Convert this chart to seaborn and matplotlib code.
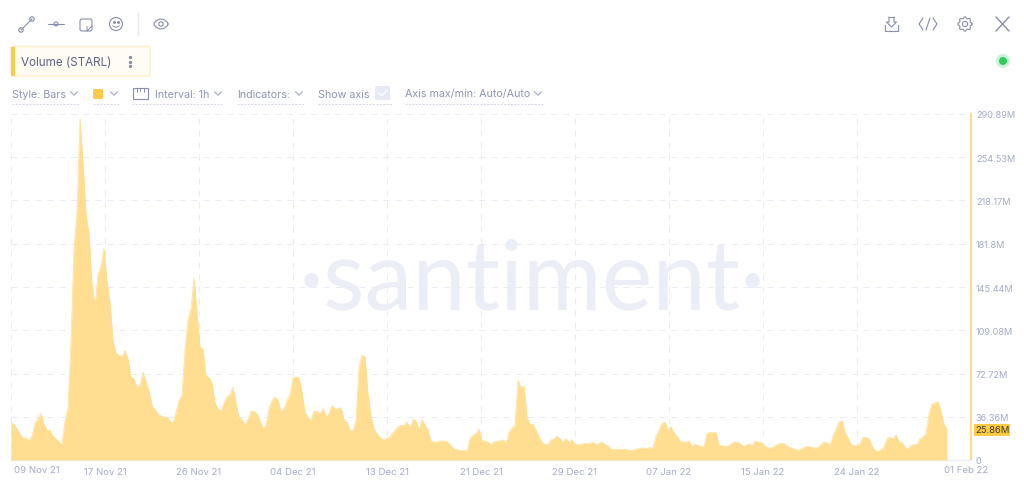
import numpy as np
import pandas as pd
import matplotlib
matplotlib.use("Agg")
import matplotlib.pyplot as plt
import seaborn as sns
from matplotlib.patches import Circle, FancyBboxPatch, Rectangle, Ellipse

volume_nov_a = [31,30,26,22,18.5,18.5,16,20,31,35,39,30,25,25,20,18,15,13,33,44,100,178,208,287,250,207,190,148,130,156,163,178,150,132,100,90,88,87,92,85,70,68,61,63,74,66,58,46,42,39,37,36,36,33,31]
volume_nov_b = [40,50,54,93,118,127,153,124,95,93,71,69,65,48,43,41,48,53,55,61,48,36,34,30,34,41,41,39,33,27,29,43,50,53,50,41,43,50,55,69,70,69,57,40,36,33,41,41,39,43,37,39,46,43,43]
volume_dec_a = [44,34,32,25,25,33,78,88,87,55,37,26,22,19,17,18,19,22,25,28,29,29,32,27,34,33,25,34,29,25,16,15,15,16,16,16,14,11,9,8.5,8,8,8,18,21,22,26,16,16,15,13,15,16,16,17]
volume_dec_b = [14,23,27,29,67,61,62,36,30,30,25,19,15,13,13,17,18,20,18,15,18,15,17,13,13,13,14,14,14,15,13,14,15,13,12,9,9,9,9,9,9,8,8,9,9.5,10,10,9.5,10.5,10,20,25,31,32,25]
volume_jan_a = [28,23,20,16,15,15,16,11.5,13.5,12,11.5,11.5,22,23,23,23,12.5,12,11.5,11.5,13.5,15,15,14,11.5,12.5,13.5,12,16,15,15,12.5,10.5,10,10.5,12.5,13.5,14,13.5,11.5,10.5,9,8.5,8.5,10,11.5,11.5,10.5,10,10.5]
volume_jan_b = [13,15,14.5,12,20,26,32,33,23,19,13,12,12,14,19,19,18,12,8,7,9,11,18,19,18,21,15,15,11,9,12,13,13,18,19,22,39,47,48,49,41,30,25.86]
volume = volume_nov_a + volume_nov_b + volume_dec_a + volume_dec_b + volume_jan_a + volume_jan_b

date_labels = ["17 Nov 21","26 Nov 21","04 Dec 21","13 Dec 21","21 Dec 21","29 Dec 21","07 Jan 22","15 Jan 22","24 Jan 22"]
first_label, last_label = "09 Nov 21", "01 Feb 22"
axis_values = [0,36.36,72.72,109.08,145.44,181.8,218.17,254.53,290.89]
axis_labels = ["0","36.36M","72.72M","109.08M","145.44M","181.8M","218.17M","254.53M","290.89M"]
last_text = "25.86M"

W, H = 1024, 485
GREY = "#a3abc6"; INK = "#878dab"; GRID = "#e9ebf7"; BAR = "#ffdd91"; YEL = "#ffcb47"
sns.set_theme(style="white")
plt.rcParams["font.family"] = ["Inter", "DejaVu Sans"]
fig = plt.figure(figsize=(W/100, H/100), dpi=100, facecolor="white")
L, R, T, B = 11, 971, 115, 461
ax = fig.add_axes([L/W, 1-B/H, (R-L)/W, (B-T)/H], facecolor="none")

df = pd.DataFrame({"sample": np.arange(len(volume)), "volume": volume})
sns.lineplot(data=df, x="sample", y="volume", color=BAR, linewidth=0.5, ax=ax, zorder=3)
ax.fill_between(df["sample"], df["volume"], color=BAR, linewidth=0, zorder=3)
ax.set_xlim(0, (R-L)/3); ax.set_ylim(0, axis_values[-1])
ax.set_xlabel(""); ax.set_ylabel("")

grid_ticks = np.arange(0, 10) * 94/3
ax.set_xticks(grid_ticks)
ax.set_xticklabels([""] + date_labels, color=GREY, fontsize=6.9)
ax.yaxis.tick_right()
ax.set_yticks(axis_values); ax.set_yticklabels(axis_labels, color=GREY, fontsize=6.6)
ax.tick_params(axis="y", length=0, pad=3.5)
ax.tick_params(axis="x", length=0, pad=5)
ax.grid(True, color=GRID, linewidth=0.72, linestyle=(0, (6, 6)), zorder=1)
ax.set_axisbelow(True)
for s in ["top", "left"]:
    ax.spines[s].set_visible(False)
ax.spines["right"].set_color("#ffdb85"); ax.spines["right"].set_linewidth(1.5)
ax.spines["bottom"].set_color("#eceef6"); ax.spines["bottom"].set_linewidth(1)

ui = fig.add_axes([0, 0, 1, 1], facecolor="none", zorder=-1)
ui.set_xlim(0, W); ui.set_ylim(H, 0); ui.axis("off")
ui.text(532, 283, "·santiment·", fontsize=69, family="Lato", weight="normal", color="#ebeef6",
        ha="center", va="center")

ov = fig.add_axes([0, 0, 1, 1], facecolor="none", zorder=5)
ov.set_xlim(0, W); ov.set_ylim(H, 0); ov.axis("off")
ov.text(37, 470.5, first_label, color=GREY, fontsize=6.9, ha="center", va="center")
ov.text(966, 470.5, last_label, color=GREY, fontsize=6.9, ha="center", va="center")
ov.add_patch(Rectangle((974, 425), 36, 12, fc=YEL, ec="none"))
ov.text(975.5, 431, last_text, color="#3c3a2a", fontsize=6.8, ha="left", va="center")

lw = 0.8
def line(xs, ys, c=INK, w=lw, **k):
    ov.plot(xs, ys, color=c, lw=w, solid_capstyle="round", **k)
def ring(x, y, r, c=INK, w=lw, fc="white"):
    ov.add_patch(Ellipse((x, y), 2*r, 2*r, fc=fc, ec=c, lw=w))
def chevron(x, y):
    line([x-3.5, x, x+3.5], [y-1.8, y+1.8, y-1.8], c=GREY, w=0.8)

# left toolbar
line([21, 32], [31, 20]); ring(21, 31, 2.2); ring(32, 20, 2.2)
line([48, 64], [25, 25]); ring(56, 25, 2)
ov.add_patch(FancyBboxPatch((80, 20), 12, 12, boxstyle="round,pad=0,rounding_size=2", fc="white", ec=INK, lw=lw))
line([92, 87, 87], [27, 32, 27.5], w=0.7)
ring(116, 25, 6.5)
ov.plot([113.8, 118.2], [23, 23], ls="none", marker="o", ms=1.1, color=INK)
t = np.linspace(0.15*np.pi, 0.85*np.pi, 12)
line(116+3.6*np.cos(t), 25.5+2.6*np.sin(t), w=0.7)
line([138, 138], [14, 36], c="#e6e8f2", w=1)
t = np.linspace(0, 2*np.pi, 40)
line(161+7*np.cos(t), 25+4.3*np.sin(t)*(1-0.15*np.cos(2*t)))
ring(161, 25, 2.2)

# metric chip
ov.add_patch(FancyBboxPatch((11, 47.5), 139, 29.5, boxstyle="round,pad=0,rounding_size=2", fc="#fffcf3", ec="#ffeecb", lw=1))
ov.add_patch(Rectangle((11, 47.5), 3.5, 29.5, fc=YEL, ec="none"))
ov.text(21, 62.5, "Volume (STARL)", color="#5b6080", fontsize=8.4, va="center")
ov.plot([130, 130, 130], [58, 62.5, 67], ls="none", marker="o", ms=1.4, color=INK)

# settings row
for x, s in [(12, "Style: Bars"), (155, "Interval: 1h"), (237, "Indicators:"), (318, "Show axis"), (405, "Axis max/min: Auto/Auto")]:
    ov.text(x, 94.5, s, color="#8d94b3", fontsize=7.7, va="center")
for x in [74, 114, 218, 299, 538]:
    chevron(x, 94.5)
ov.add_patch(FancyBboxPatch((93, 90), 10, 10, boxstyle="round,pad=0,rounding_size=1.5", fc=YEL, ec="none"))
ov.add_patch(Rectangle((132.5, 89), 15, 11, fc="white", ec=INK, lw=0.8))
line([136.5, 136.5], [89, 92.5], w=0.7); line([140, 140], [89, 91.5], w=0.7); line([143.5, 143.5], [89, 92.5], w=0.7)
ov.add_patch(FancyBboxPatch((375, 87), 15, 14, boxstyle="round,pad=0,rounding_size=1.5", fc="#e7e9f5", ec="none"))
line([379, 382, 387], [94, 97, 91], c="white", w=1)
for a, b in [(12, 79), (93, 119), (132, 222), (237, 304), (318, 392), (405, 543)]:
    ov.plot([a, b], [105, 105], color="#d3d7e6", lw=0.7, ls=(0, (2, 1.5)))

# right toolbar
line([885, 885, 898, 898], [26, 32, 32, 26])
line([889, 889, 886.5, 891.5, 896.5, 894, 894], [18, 23, 23, 28, 23, 23, 18], w=0.8)
line([889, 894], [18, 18], w=0.8)
line([923, 919, 923], [19, 25, 31]); line([933, 937, 933], [19, 25, 31]); line([926, 930], [31, 19])
t = np.linspace(0, 2*np.pi, 97)
line(965+(6.4+0.8*np.cos(8*t))*np.cos(t), 25+(6.4+0.8*np.cos(8*t))*np.sin(t), w=0.8)
ring(965, 25, 2.6)
line([996, 1009], [18, 32], w=1.0); line([996, 1009], [32, 18], w=1.0)
ov.add_patch(Circle((1003, 62), 7, fc="#cdeed8", ec="none"))
ov.add_patch(Circle((1003, 62), 4, fc="#2bce5c", ec="none"))

fig.savefig("out.png", dpi=100, facecolor="white")
